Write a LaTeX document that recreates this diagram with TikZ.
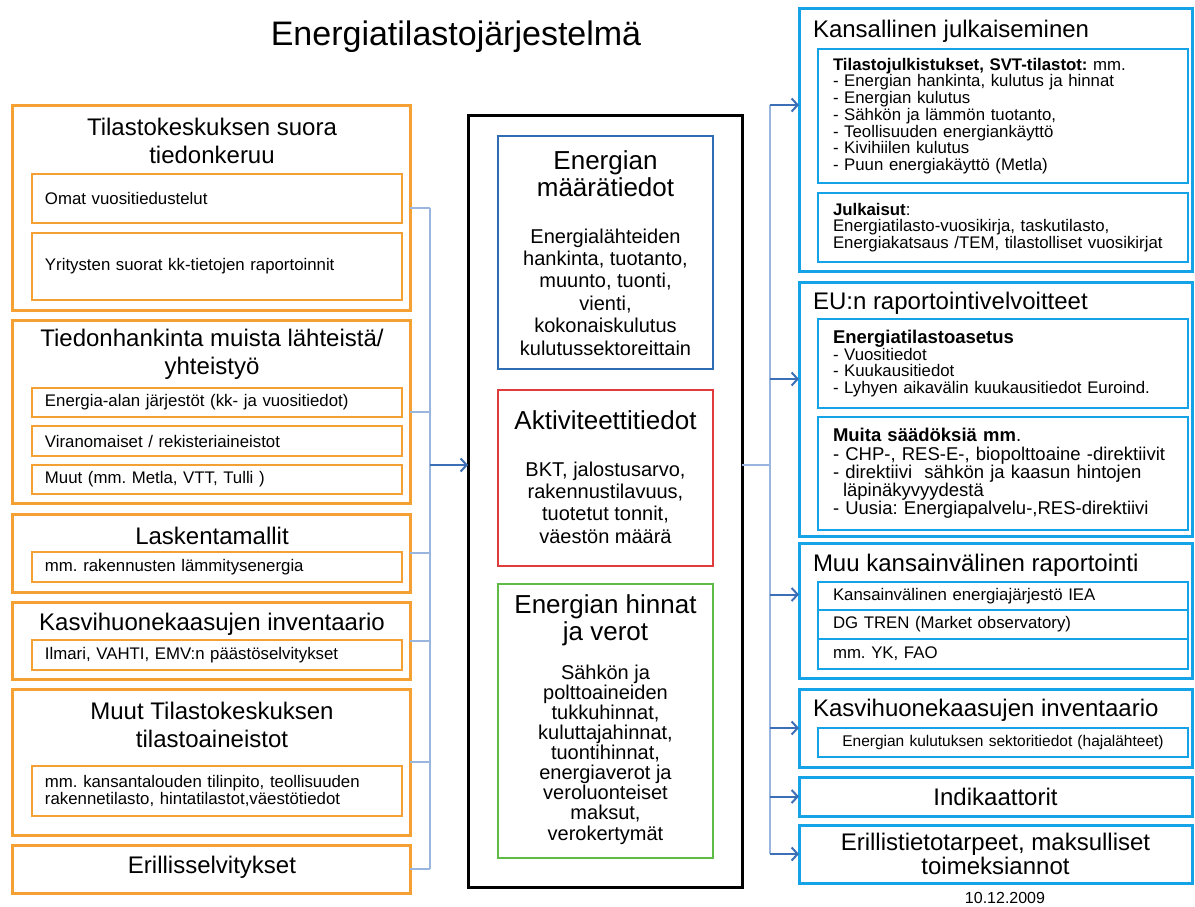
\documentclass[tikz,border=0pt]{standalone}
\usepackage{fontspec}
\setmainfont{Liberation Sans}
\frenchspacing
\usetikzlibrary{positioning,arrows.meta}
\definecolor{orng}{HTML}{F5A033}
\definecolor{sky}{HTML}{14A3E6}
\definecolor{qblue}{HTML}{2E6DB4}
\definecolor{ared}{HTML}{E03C3C}
\definecolor{pgreen}{HTML}{5DBB46}
\definecolor{busc}{HTML}{9AB6DE}
\definecolor{arrc}{HTML}{3D6FB6}

\begin{document}
\begin{tikzpicture}[x=1pt, y=-1pt,
  every node/.style={inner sep=0pt, outer sep=0pt},
  obox/.style={draw=orng, line width=3pt, minimum width=398pt},
  ibox/.style={draw=orng, line width=2.5pt, minimum width=370pt, text width=344pt,
    inner xsep=13pt, align=left, font=\fontsize{16.8}{17}\selectfont},
  ttl/.style={align=center, font=\fontsize{24}{28}\selectfont},
  cbox/.style={line width=2.5pt, minimum width=215pt},
  ctl/.style={align=center, font=\fontsize{26}{27}\selectfont},
  ctx/.style={align=center, font=\fontsize{20}{22.4}\selectfont},
  rbox/.style={draw=sky, line width=3pt, minimum width=393pt},
  rin/.style={draw=sky, line width=2.5pt, minimum width=370pt, text width=340pt,
    inner xsep=15pt, align=left, font=\fontsize{16.8}{16.7}\selectfont},
  rtl/.style={anchor=west, font=\fontsize{24}{28}\selectfont},
  bus/.style={draw=busc, line width=2pt},
  arr/.style={draw=arrc, line width=2pt, -{Straight Barb[length=6pt, width=13pt]}}
]
\useasboundingbox (0,0) rectangle (1195,907);

\node[font=\fontsize{34}{40}\selectfont] (title) at (456,37) {Energiatilastojärjestelmä};

% sources
\node[obox, minimum height=204pt] (src1) at (211,208) {};
\node[ttl] (src1t) at (212,141) {Tilastokeskuksen suora\\tiedonkeruu};
\node[ibox, minimum height=49pt] (src1a) at (217,198.5) {Omat vuositiedustelut};
\node[ibox, minimum height=67pt] (src1b) at (217,266.5) {Yritysten suorat kk-tietojen raportoinnit};

\node[obox, minimum height=183pt] (src2) at (211,411.5) {};
\node[ttl] (src2t) at (212,354.5) {Tiedonhankinta muista lähteistä/\\yhteistyö};
\node[ibox, minimum height=29pt] (src2a) at (217,402.5) {Energia-alan järjestöt (kk- ja vuositiedot)};
\node[ibox, minimum height=30pt] (src2b) at (217,441) {Viranomaiset / rekisteriaineistot};
\node[ibox, minimum height=29pt] (src2c) at (217,479.5) {Muut (mm. Metla, VTT, Tulli )};

\node[obox, minimum height=78pt] (src3) at (211,553) {};
\node[ttl] (src3t) at (212,536) {Laskentamallit};
\node[ibox, minimum height=30pt] (src3a) at (217,567) {mm. rakennusten lämmitysenergia};

\node[obox, minimum height=77pt] (src4) at (211,640.5) {};
\node[ttl] (src4t) at (212,624) {Kasvihuonekaasujen inventaario};
\node[ibox, minimum height=30pt] (src4a) at (217,655) {Ilmari, VAHTI, EMV:n päästöselvitykset};

\node[obox, minimum height=146pt] (src5) at (211,762) {};
\node[ttl] (src5t) at (212,724.5) {Muut Tilastokeskuksen\\tilastoaineistot};
\node[ibox, minimum height=50pt] (src5a) at (217,791) {mm. kansantalouden tilinpito, teollisuuden\\rakennetilasto, hintatilastot,väestötiedot};

\node[obox, minimum height=48pt] (src6) at (211,869) {};
\node[ttl] (src6t) at (212,867) {Erillisselvitykset};

% core
\node[draw, line width=3pt, minimum width=274pt, minimum height=772pt] (core) at (605,501) {};
\node[cbox, draw=qblue, minimum height=233pt] (qty) at (605.5,252.5) {};
\node[ctl] (qtyt) at (605.5,173.5) {Energian\\määrätiedot};
\node[ctx] (qtyx) at (605.5,292) {Energialähteiden\\hankinta, tuotanto,\\muunto, tuonti,\\vienti,\\kokonaiskulutus\\kulutussektoreittain};

\node[cbox, draw=ared, minimum height=176pt] (act) at (605.5,478) {};
\node[ctl] (actt) at (605.5,420) {Aktiviteettitiedot};
\node[ctx] (actx) at (605.5,502.5) {BKT, jalostusarvo,\\rakennustilavuus,\\tuotetut tonnit,\\väestön määrä};

\node[cbox, draw=pgreen, minimum height=274pt] (prc) at (605.5,721) {};
\node[ctl] (prct) at (605.5,620) {Energian hinnat\\ja verot};
\node[ctx, font=\fontsize{20}{20.1}\selectfont] (prcx) at (605.5,754.5) {Sähkön ja\\polttoaineiden\\tukkuhinnat,\\kuluttajahinnat,\\tuontihinnat,\\energiaverot ja\\veroluonteiset\\maksut,\\verokertymät};

% outputs
\node[rbox, minimum height=262pt] (pub) at (995.5,140) {};
\node[rtl] (pubt) at (813,31) {Kansallinen julkaiseminen};
\node[rin, minimum height=134pt] (puba) at (1003,116) {\textbf{Tilastojulkistukset, SVT-tilastot:} mm.\\- Energian hankinta, kulutus ja hinnat\\- Energian kulutus\\- Sähkön ja lämmön tuotanto,\\- Teollisuuden energiankäyttö\\- Kivihiilen kulutus\\- Puun energiakäyttö (Metla)};
\node[rin, minimum height=69pt] (pubb) at (1003,227.5) {\textbf{Julkaisut}:\\Energiatilasto-vuosikirja, taskutilasto,\\Energiakatsaus /TEM, tilastolliset vuosikirjat};

\node[rbox, minimum height=254pt] (eu) at (995.5,409) {};
\node[rtl] (eut) at (813,303) {EU:n raportointivelvoitteet};
\node[rin, minimum height=89pt] (eua) at (1003,363.5) {{\fontsize{18.5}{16.7}\selectfont\textbf{Energiatilastoasetus}}\\- Vuositiedot\\- Kuukausitiedot\\- Lyhyen aikavälin kuukausitiedot Euroind.};
\node[rin, minimum height=113pt, font=\fontsize{18.5}{18.2}\selectfont] (eub) at (1003,473.5) {\textbf{Muita säädöksiä mm}.\\- CHP-, RES-E-, biopolttoaine -direktiivit\\- direktiivi\ \ sähkön ja kaasun hintojen\\\hspace*{10pt}läpinäkyvyydestä\\- Uusia: Energiapalvelu-,RES-direktiivi};

\node[rbox, minimum height=135pt] (intl) at (995.5,610.5) {};
\node[rtl] (intlt) at (813,565) {Muu kansainvälinen raportointi};
\node[rin, minimum height=28pt] (intla) at (1003,596) {Kansainvälinen energiajärjestö IEA};
\node[rin, minimum height=29pt, below=0pt of intla] (intlb) {DG TREN (Market observatory)};
\node[rin, minimum height=30pt, below=0pt of intlb] (intlc) {mm. YK, FAO};

\node[rbox, minimum height=78pt] (ghg) at (995.5,728) {};
\node[rtl] (ghgt) at (813,710) {Kasvihuonekaasujen inventaario};
\node[rin, minimum height=29pt, align=center, font=\fontsize{15.5}{16}\selectfont] (ghga) at (1003,742.5) {Energian kulutuksen sektoritiedot (hajalähteet)};

\node[rbox, minimum height=39pt, font=\fontsize{24}{28}\selectfont] (ind) at (995.5,796.5) {Indikaattorit};
\node[rbox, minimum height=58pt, align=center, font=\fontsize{24}{21}\selectfont] (ext) at (995.5,854) {Erillistietotarpeet, maksulliset\\toimeksiannot};

\node[font=\fontsize{16}{18}\selectfont] (date) at (1005,898) {10.12.2009};

% connectors
\coordinate (busL) at (430,465);
\coordinate (busR) at (770,465);
\foreach \s in {src1,src2,src3,src4,src5,src6}
  \draw[bus] (\s.east) -- (busL |- \s.east);
\draw[bus] (busL |- src1.east) -- (busL |- src6.east);
\draw[arr] (busL) -- (busL -| core.west);
\draw[bus] (busR -| core.east) -- (busR);
\coordinate (pubIn) at ([yshift=35pt]pub.west);
\coordinate (euIn) at ([yshift=30pt]eu.west);
\coordinate (intlIn) at ([yshift=16pt]intl.west);
\draw[bus] (busR |- pubIn) -- (busR |- ext.west);
\foreach \t in {pubIn,euIn,intlIn,ghg.west,ind.west,ext.west}
  \draw[arr] (busR |- \t) -- (\t);
\end{tikzpicture}
\end{document}
